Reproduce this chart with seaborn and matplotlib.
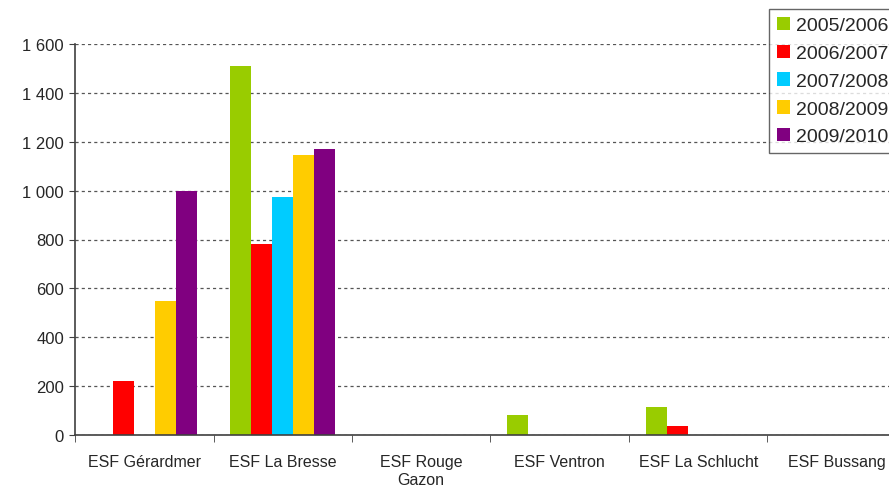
import pandas as pd
import seaborn as sns
import matplotlib.pyplot as plt
from matplotlib.ticker import FuncFormatter, FixedLocator

stations = ["ESF Gérardmer", "ESF La Bresse", "ESF Rouge\nGazon", "ESF Ventron",
            "ESF La Schlucht", "ESF Bussang"]
seasons = ["2005/2006", "2006/2007", "2007/2008", "2008/2009", "2009/2010"]
v_2005 = [0, 1510, 0, 80, 115, 0]
v_2006 = [220, 780, 0, 0, 35, 0]
v_2007 = [0, 975, 0, 0, 0, 0]
v_2008 = [550, 1145, 0, 0, 0, 0]
v_2009 = [1000, 1170, 0, 0, 0, 0]
colors = ["#99CC00", "#FF0000", "#00CCFF", "#FFCC00", "#800080"]

rows = []
for season, vals in zip(seasons, [v_2005, v_2006, v_2007, v_2008, v_2009]):
    for st, v in zip(stations, vals):
        rows.append({"station": st, "season": season, "value": v})
df = pd.DataFrame(rows)

sns.set_style("white")
plt.rcParams['font.family'] = ['Liberation Sans', 'DejaVu Sans']

fig = plt.figure(figsize=(8.89, 4.89), dpi=100)
ax = fig.add_axes([75 / 889, 1 - 436 / 489, 831 / 889, 391 / 489])

sns.barplot(data=df, x="station", y="value", hue="season", palette=colors,
            width=0.76, saturation=1, ax=ax, errorbar=None, linewidth=0)

ax.set_ylim(0, 1600)
ax.set_xlim(-0.5, 5.5)
ax.set_yticks(range(0, 1601, 200))
ax.yaxis.set_major_formatter(FuncFormatter(lambda v, p: f"{int(v):,}".replace(",", " ")))
ax.yaxis.grid(True, linestyle=(0, (2.5, 2.5)), color="#555555", linewidth=0.9)
ax.set_axisbelow(True)

for s in ["top", "right"]:
    ax.spines[s].set_visible(False)
for s in ["left", "bottom"]:
    ax.spines[s].set_color("#404040")
    ax.spines[s].set_linewidth(1.2)

ax.tick_params(axis="y", left=True, length=4, color="#404040", labelsize=12, pad=4)
ax.tick_params(axis="x", which="major", length=0, labelsize=11.5, pad=14)
ax.xaxis.set_minor_locator(FixedLocator([i - 0.5 for i in range(7)]))
ax.tick_params(axis="x", which="minor", bottom=True, length=5, color="#404040")
ax.set_xlabel("")
ax.set_ylabel("")

ax.get_legend().remove()
handles, labels = ax.get_legend_handles_labels()
fig.legend(handles, labels, loc="upper left", bbox_to_anchor=(769 / 889, 1 - 10 / 489),
           frameon=True, fancybox=False, edgecolor="#404040", fontsize=14,
           handlelength=0.7, handleheight=0.7, handletextpad=0.3,
           labelspacing=0.52, borderpad=0.4, borderaxespad=0)

fig.savefig("out.png", dpi=100)
